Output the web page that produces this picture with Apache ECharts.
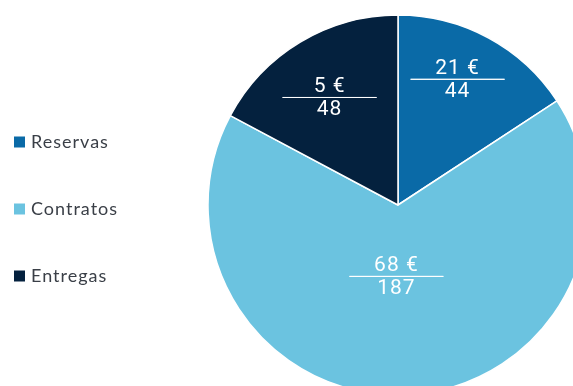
<!DOCTYPE html>
<html><head><meta charset="utf-8">
<script src="https://cdn.jsdelivr.net/npm/echarts@6/dist/echarts.min.js"></script>
<style>html,body{margin:0;padding:0;background:#fff}#c{width:573px;height:386px}</style>
</head><body><div id="c"></div>
<script>
// slight tracking on all chart text, as in the reference
const _fillText = CanvasRenderingContext2D.prototype.fillText;
CanvasRenderingContext2D.prototype.fillText = function () {
  this.letterSpacing = '1px';
  return _fillText.apply(this, arguments);
};

const categories = ['Reservas', 'Contratos', 'Entregas'];
const counts = [44, 187, 48];
const euros = [21, 68, 5];
const colors = ['#0a6aa7', '#6bc3e0', '#04213e'];
const labelOffsets = [[13, -38], [-6, -25], [-18, -22]];

const chart = echarts.init(document.getElementById('c'), null, {renderer: 'canvas'});
chart.setOption({
  animation: false,
  color: colors,
  legend: {
    orient: 'vertical', left: 14, top: 133, padding: 0,
    itemWidth: 11, itemHeight: 11, itemGap: 49, icon: 'rect',
    itemStyle: {borderWidth: 0},
    textStyle: {fontFamily: 'Lato', fontSize: 18, color: '#3a3f47', padding: [0,0,0,1]},
    data: categories
  },
  series: [{
    type: 'pie',
    center: [398, 205], radius: 190,
    startAngle: 90, clockwise: true,
    itemStyle: {borderColor: '#fff', borderWidth: 1.5},
    label: {
      position: 'inside',
      formatter: p => '{a|' + euros[p.dataIndex] + ' €}\n{hr|}\n{b|' + p.value + '}',
      rich: {
        a: {fontFamily: 'Roboto', fontSize: 21, color: '#fff', lineHeight: 22, align: 'center'},
        hr: {width: 94, height: 0, borderColor: '#fff', borderWidth: 1},
        b: {fontFamily: 'Roboto', fontSize: 21, color: '#fff', lineHeight: 25, align: 'center'}
      }
    },
    labelLine: {show: false},
    data: categories.map((c, i) => ({name: c, value: counts[i], label: {offset: labelOffsets[i]}}))
  }]
});
</script></body></html>
